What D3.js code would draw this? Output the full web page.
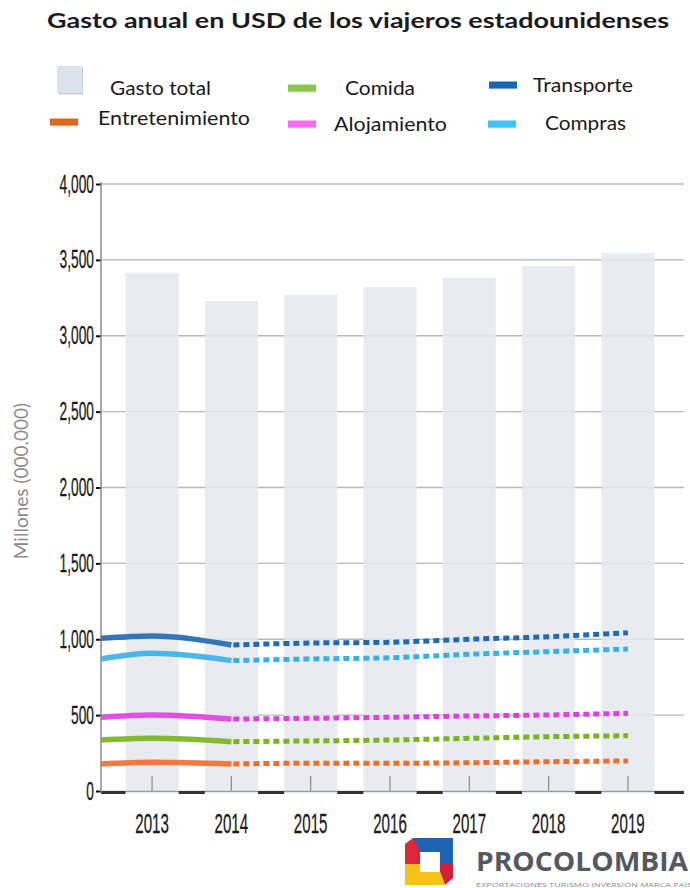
<!DOCTYPE html>
<html><head><meta charset="utf-8">
<script src="https://cdn.jsdelivr.net/npm/d3@7"></script>
<style>html,body{margin:0;padding:0;background:#fff;} svg{display:block}</style>
</head><body><svg id="c" width="690" height="888"></svg>
<script>
// ---------- DATA ----------
const years = ["2013", "2014", "2015", "2016", "2017", "2018", "2019"];
const gastoTotal = [3413, 3229, 3269, 3321, 3381, 3460, 3545];
// value of each line where it starts at the y axis (before 2013)
const inicio = { transporte: 1006, compras: 870, alojamiento: 486, comida: 336, entretenimiento: 178 };
const transporte      = [1021, 962, 975, 980, 1000, 1017, 1043];
const compras         = [907, 859, 870, 878, 901, 918, 936];
const alojamiento     = [501, 474, 479, 486, 494, 501, 512];
const comida          = [347, 325, 330, 336, 347, 358, 364];
const entretenimiento = [189, 178, 183, 183, 186, 193, 198];
const yTicks = [0, 500, 1000, 1500, 2000, 2500, 3000, 3500, 4000];

// ---------- LAYOUT ----------
const svg = d3.select("#c");
const P = { left: 101, right: 684, top: 184, bottom: 791 };
const y = d3.scaleLinear().domain([0, 4000]).range([P.bottom, P.top]);
const x = d3.scaleBand().domain(years).range([112.4, 667.6]).paddingInner(0.33).paddingOuter(0.165);
const cx = d => x(d) + x.bandwidth() / 2;

svg.append("rect").attr("width", 690).attr("height", 888).attr("fill", "#fff");

// title
svg.append("text").attr("x", 358).attr("y", 28).attr("text-anchor", "middle")
  .attr("font-family", "Lato, 'Open Sans', sans-serif").attr("font-weight", "bold").attr("font-size", 21)
  .attr("fill", "#1b1b1b").attr("textLength", 622).attr("lengthAdjust", "spacingAndGlyphs")
  .text("Gasto anual en USD de los viajeros estadounidenses");

// gridlines
svg.append("g").selectAll("line").data(yTicks.slice(1)).join("line")
  .attr("x1", P.left).attr("x2", P.right).attr("y1", d => y(d)).attr("y2", d => y(d))
  .attr("stroke", "#b8b8b8").attr("stroke-width", 1.3);

// bars
svg.append("g").selectAll("rect").data(years).join("rect")
  .attr("x", d => x(d)).attr("width", x.bandwidth())
  .attr("y", (d, i) => y(gastoTotal[i])).attr("height", (d, i) => y(0) - y(gastoTotal[i]))
  .attr("fill", "#e4e9ed").attr("fill-opacity", 0.85);

// x axis base
svg.append("line").attr("x1", P.left).attr("x2", P.right).attr("y1", P.bottom + 0.5).attr("y2", P.bottom + 0.5)
  .attr("stroke", "#9a9a9a").attr("stroke-width", 1.5);
const gaps = d3.range(years.length + 1).map(i => ({
  a: i === 0 ? P.left : x(years[i - 1]) + x.bandwidth(),
  b: i === years.length ? P.right : x(years[i])
}));
svg.append("g").selectAll("line").data(gaps).join("line")
  .attr("x1", d => d.a).attr("x2", d => d.b).attr("y1", P.bottom + 1.5).attr("y2", P.bottom + 1.5)
  .attr("stroke", "#333").attr("stroke-width", 3);
// inner x ticks
svg.append("g").selectAll("line").data(years).join("line")
  .attr("x1", d => cx(d)).attr("x2", d => cx(d)).attr("y1", P.bottom - 15).attr("y2", P.bottom)
  .attr("stroke", "#8a8a8a").attr("stroke-width", 1.2);

// x labels
svg.append("g").selectAll("text").data(years).join("text")
  .attr("x", d => cx(d)).attr("y", 833).attr("text-anchor", "middle")
  .attr("font-family", "'Liberation Sans Narrow', 'Liberation Sans', sans-serif").attr("font-size", 27)
  .attr("fill", "#1a1a1a").attr("stroke", "#1a1a1a").attr("stroke-width", 0.3).text(d => d)
  .each(function () { const l = this.getComputedTextLength(); d3.select(this).attr("textLength", l * 0.56).attr("lengthAdjust", "spacingAndGlyphs"); });

// y axis
const yAxis = svg.append("g").attr("transform", `translate(${P.left},0)`)
  .call(d3.axisLeft(y).tickValues(yTicks).tickFormat(d3.format(",")).tickSize(5).tickPadding(2));
yAxis.select(".domain").remove();
yAxis.selectAll(".tick line").attr("stroke", "#111").attr("stroke-width", 2);
yAxis.selectAll(".tick text").attr("font-family", "'Liberation Sans Narrow', 'Liberation Sans', sans-serif")
  .attr("font-size", 25).attr("fill", "#1a1a1a").attr("stroke", "#1a1a1a").attr("stroke-width", 0.3)
  .each(function () { const l = this.getComputedTextLength(); d3.select(this).attr("textLength", l * 0.55).attr("lengthAdjust", "spacingAndGlyphs"); });
svg.append("line").attr("x1", P.left).attr("x2", P.left).attr("y1", P.top - 2).attr("y2", P.bottom + 2)
  .attr("stroke", "#8a8a8a").attr("stroke-width", 1.5);

// y title
svg.append("text").attr("transform", "translate(28,481) rotate(-90)").attr("text-anchor", "middle")
  .attr("font-family", "Lato, 'Open Sans', sans-serif").attr("font-size", 19).attr("fill", "#8c8c8c")
  .text("Millones (000.000)");

// lines
const seriesList = [
  { key: "entretenimiento", values: entretenimiento, color: "#f26b2a" },
  { key: "comida", values: comida, color: "#78b41e" },
  { key: "alojamiento", values: alojamiento, color: "#e03ee2" },
  { key: "compras", values: compras, color: "#36b0e8" },
  { key: "transporte", values: transporte, color: "#1f6ab2" }
];
const line = d3.line().x(d => d.x).y(d => y(d.v)).curve(d3.curveMonotoneX);
const gl = svg.append("g");
seriesList.forEach(s => {
  const solid = [{ x: P.left, v: inicio[s.key] }, { x: cx(years[0]), v: s.values[0] }, { x: cx(years[1]), v: s.values[1] }];
  const dashed = years.slice(1).map((yr, i) => ({ x: cx(yr), v: s.values[i + 1] }));
  gl.append("path").attr("d", line(solid)).attr("fill", "none").attr("stroke", s.color)
    .attr("stroke-width", 5.5).attr("stroke-opacity", 0.9);
  gl.append("path").attr("d", line(dashed)).attr("fill", "none").attr("stroke", s.color)
    .attr("stroke-width", 5).attr("stroke-dasharray", "6,4").attr("stroke-dashoffset", -2);
});

// legend
const legendItems = [
  { label: "Gasto total", color: "#dbe3ec", type: "box", sx: 57, sy: 66, tx: 110, ty: 95, w: 101 },
  { label: "Comida", color: "#8cc84e", type: "line", sx: 288, sy: 88, tx: 345, ty: 95, w: 70 },
  { label: "Transporte", color: "#1566b0", type: "line", sx: 489, sy: 85, tx: 533, ty: 92, w: 100 },
  { label: "Entretenimiento", color: "#e2671e", type: "line", sx: 50, sy: 122, tx: 98, ty: 125, w: 152 },
  { label: "Alojamiento", color: "#f36cf0", type: "line", sx: 288, sy: 124, tx: 334, ty: 131, w: 113 },
  { label: "Compras", color: "#3ec4f4", type: "line", sx: 488, sy: 124, tx: 545, ty: 130, w: 81 }
];
const lg = svg.append("g");
legendItems.forEach(it => {
  if (it.type === "box") {
    lg.append("rect").attr("x", it.sx + 1).attr("y", it.sy + 1.5).attr("width", 25).attr("height", 27).attr("fill", "#c9cdd2");
    lg.append("rect").attr("x", it.sx).attr("y", it.sy).attr("width", 25).attr("height", 27).attr("fill", it.color);
  } else {
    lg.append("rect").attr("x", it.sx).attr("y", it.sy - 2.5).attr("width", 28).attr("height", 7).attr("fill", "#bbb").attr("opacity", 0.5);
    lg.append("rect").attr("x", it.sx).attr("y", it.sy - 3.5).attr("width", 28).attr("height", 7).attr("fill", it.color);
  }
  lg.append("text").attr("x", it.tx).attr("y", it.ty).attr("font-family", "Lato, 'Open Sans', sans-serif")
    .attr("font-size", 19).attr("fill", "#1a1a1a").attr("textLength", it.w).attr("lengthAdjust", "spacingAndGlyphs")
    .text(it.label);
});

// logo
const logo = svg.append("g").attr("transform", "translate(405,838)");
logo.append("polygon").attr("points", "8,0 48,0 48,26 35,26 35,14 8,14").attr("fill", "#1f63b4");
logo.append("polygon").attr("points", "0,6 8,0 15,14 15,26 0,26").attr("fill", "#e0253a");
logo.append("polygon").attr("points", "35,26 48,26 48,40 40,47 35,34").attr("fill", "#d41f3a");
logo.append("polygon").attr("points", "0,26 15,26 15,34 35,34 40,47 0,47").attr("fill", "#f7c11a");
logo.append("rect").attr("x", 15).attr("y", 14).attr("width", 20).attr("height", 20).attr("fill", "#fff");
svg.append("text").attr("x", 476).attr("y", 871).attr("font-family", "'Open Sans', sans-serif").attr("font-weight", "bold")
  .attr("font-size", 27).attr("fill", "#54595f").attr("textLength", 212).attr("lengthAdjust", "spacingAndGlyphs").text("PROCOLOMBIA");
svg.append("text").attr("x", 476).attr("y", 887).attr("font-family", "'Open Sans', sans-serif")
  .attr("font-size", 6).attr("fill", "#8a8a8a").attr("textLength", 216).attr("lengthAdjust", "spacingAndGlyphs")
  .text("EXPORTACIONES TURISMO INVERSIÓN MARCA PAÍS");
</script>
</body></html>
